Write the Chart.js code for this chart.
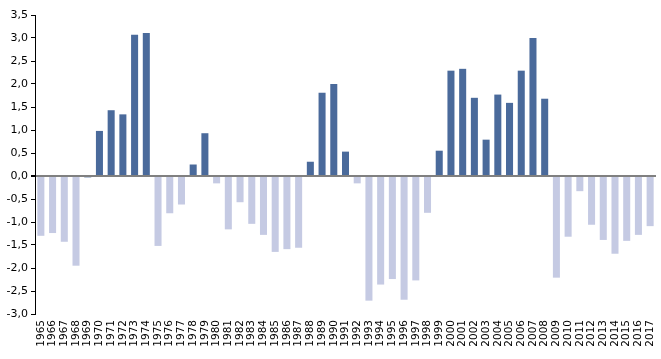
<!DOCTYPE html>
<html>
<head>
<meta charset="utf-8">
<script src="https://cdn.jsdelivr.net/npm/chart.js@4/dist/chart.umd.min.js"></script>
<style>
html,body{margin:0;padding:0;background:#fff;}
#wrap{width:661px;height:359px;position:relative;}
</style>
</head>
<body>
<div id="wrap"><canvas id="c" width="661" height="359"></canvas></div>
<script>
const years = [];
for (let y = 1965; y <= 2017; y++) years.push(String(y));

const positiveValues = [
  null,null,null,null,-0.03,0.98,1.43,1.34,3.07,3.11,
  null,null,null,0.25,0.93,null,null,null,null,null,
  null,null,null,0.31,1.81,2.00,0.53,null,null,null,
  null,null,null,null,0.55,2.29,2.33,1.70,0.79,1.77,
  1.59,2.29,3.00,1.68,null,null,null,null,null,null,
  null,null,null
];
const negativeValues = [
  -1.30,-1.24,-1.43,-1.95,null,null,null,null,null,null,
  -1.52,-0.81,-0.62,null,null,-0.16,-1.16,-0.57,-1.04,-1.28,
  -1.65,-1.59,-1.56,null,null,null,null,-0.16,-2.71,-2.36,
  -2.24,-2.69,-2.27,-0.80,null,null,null,null,null,null,
  null,null,null,null,-2.21,-1.32,-0.33,-1.06,-1.39,-1.69,
  -1.41,-1.28,-1.09
];
const yMin = -3.0, yMax = 3.5, yStep = 0.5;

new Chart(document.getElementById('c'), {
  type: 'bar',
  data: {
    labels: years,
    datasets: [
      { data: positiveValues, backgroundColor: '#4a6a9b', barPercentage: 0.6, categoryPercentage: 1.0 },
      { data: negativeValues, backgroundColor: '#c5cae3', barPercentage: 0.6, categoryPercentage: 1.0 }
    ]
  },
  options: {
    responsive: false,
    animation: false,
    devicePixelRatio: 1,
    layout: { padding: { top: 15, right: 5, left: 0, bottom: 0 } },
    plugins: { legend: { display: false }, tooltip: { enabled: false } },
    scales: {
      x: {
        stacked: true,
        grid: { display: false, drawTicks: false },
        border: { display: false },
        ticks: {
          autoSkip: false, maxRotation: 90, minRotation: 90,
          color: '#000', padding: 6,
          font: { family: 'DejaVu Sans', size: 10.5 }
        },
        afterFit: s => { s.height = 45; s.paddingLeft = 0; s.paddingRight = 0; }
      },
      y: {
        stacked: true,
        min: yMin, max: yMax,
        border: { display: true, color: '#000', width: 1 },
        grid: {
          drawOnChartArea: true,
          color: ctx => (ctx.tick && ctx.tick.value === 0) ? '#808080' : 'rgba(0,0,0,0)',
          lineWidth: ctx => (ctx.tick && ctx.tick.value === 0) ? 2 : 1,
          tickColor: '#000', tickLength: 4
        },
        ticks: {
          stepSize: yStep, color: '#000', padding: 3,
          font: { family: 'DejaVu Sans', size: 11 },
          callback: v => v.toFixed(1).replace('.', ',')
        },
        afterFit: s => { s.width = 35; s.paddingTop = 0; s.paddingBottom = 0; }
      }
    }
  }
});
</script>
</body>
</html>
